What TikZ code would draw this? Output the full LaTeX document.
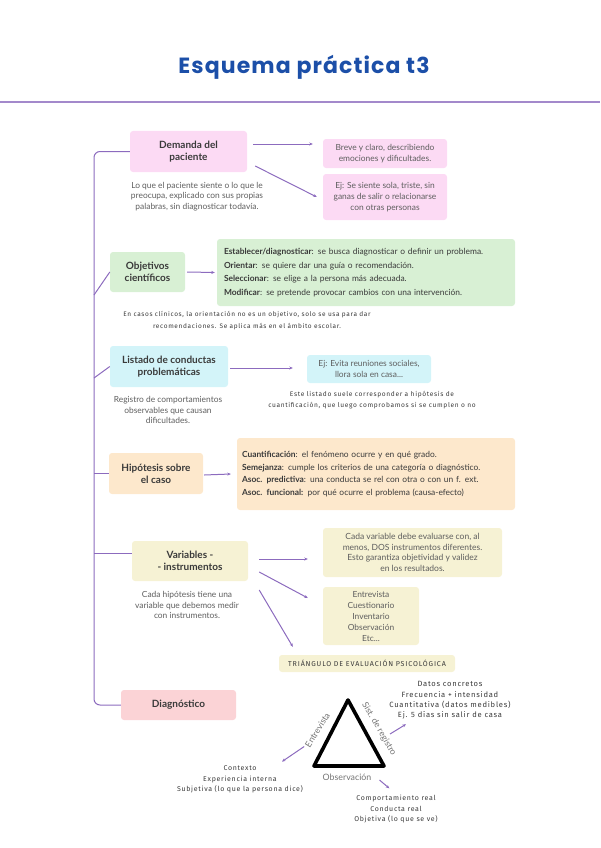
\documentclass[tikz,border=0pt]{standalone}
\usepackage{fontspec}
\setmainfont{Lato}
\newfontfamily\titlefont{Poppins}
\newfontfamily\handfont{Fira Sans}[LetterSpace=10]
\newfontfamily\handcaps{Fira Sans}[LetterSpace=12]
\usetikzlibrary{arrows.meta}
\definecolor{lineP}{HTML}{8C6BBE}
\definecolor{titleB}{HTML}{1C4FA8}
\definecolor{txtdark}{HTML}{3A3A3A}
\definecolor{txtgray}{HTML}{5E5E5E}
\definecolor{txtlight}{HTML}{747474}
\definecolor{fpink}{HTML}{FCDAF4}
\definecolor{fgreen}{HTML}{D8F0D4}
\definecolor{fcyan}{HTML}{D3F4F9}
\definecolor{forange}{HTML}{FDE8CC}
\definecolor{fyellow}{HTML}{F6F2D4}
\definecolor{fred}{HTML}{FBD3D6}
\begin{document}
\begin{tikzpicture}[x=1pt,y=-1pt,
  mainbox/.style={rounded corners=3pt, inner sep=1pt, align=center, text=txtdark,
    font=\fontsize{10}{12.3}\selectfont\bfseries},
  infobox/.style={rounded corners=3pt, inner sep=1pt, align=center, text=txtgray,
    font=\fontsize{8.4}{10.4}\selectfont},
  listbox/.style={rounded corners=3pt, inner ysep=1pt, align=left, text=txtdark,
    font=\fontsize{8.4}{13.5}\selectfont},
  desc/.style={align=center, text=txtgray, inner sep=0pt, font=\fontsize{8.4}{10.4}\selectfont},
  hand/.style={align=center, text=txtdark, inner sep=0pt, font=\handfont\fontsize{6.6}{11.5}\selectfont},
  tlabel/.style={text=txtlight, inner sep=0pt, font=\fontsize{8.8}{10}\selectfont},
  trunk/.style={draw=lineP, line width=1pt},
  arr/.style={draw=lineP, line width=1pt, -{Stealth[length=3.5pt,width=3pt]}},
]
\useasboundingbox (0,0) rectangle (600,848);

% title
\node[text=titleB, font=\titlefont\fontsize{22}{25}\selectfont\bfseries\addfontfeatures{LetterSpace=5}] (title) at (304,67) {Esquema práctica t3};
\draw[draw=lineP!80, line width=1.2pt] (0,102) coordinate (hl) -- (600,102) coordinate (hr);

% main boxes
\node[mainbox, fill=fpink, minimum width=117pt, minimum height=41pt] (dem) at (188.5,151.5) {Demanda del\\paciente};
\node[mainbox, fill=fgreen, minimum width=75pt, minimum height=40pt] (obj) at (147.5,272) {Objetivos\\científicos};
\node[mainbox, fill=fcyan, minimum width=118pt, minimum height=41pt] (lis) at (169,366.5) {Listado de conductas\\problemáticas};
\node[mainbox, fill=forange, minimum width=94pt, minimum height=41pt] (hip) at (156,473.5) {Hipótesis sobre\\el caso};
\node[mainbox, fill=fyellow, minimum width=116pt, minimum height=40pt] (var) at (190,561) {Variables -\\- instrumentos};
\node[mainbox, fill=fred, minimum width=115pt, minimum height=30pt] (dia) at (178.5,705) {Diagnóstico};

% spine
\coordinate (sp) at (94,400);
\draw[trunk, rounded corners=6pt] (dem.west) -| (sp) |- (dia.west);
\coordinate (b1) at (94,295);
\coordinate (b2) at (94,378);
\coordinate (b3) at (94,473.5);
\coordinate (b4) at (94,553);
\draw[trunk] (b1) -- (obj.west);
\draw[trunk] (b2) -- (lis.west);
\draw[trunk] (b3) -- (hip.west);
\draw[trunk] (b4) -- (b4 -| var.west);

% Demanda
\node[infobox, fill=fpink, minimum width=124pt, minimum height=29pt] (breve) at (385,153.5) {Breve y claro, describiendo\\emociones y dificultades.};
\node[infobox, fill=fpink, minimum width=124pt, minimum height=46pt, font=\fontsize{8.4}{10.7}\selectfont] (sola) at (385,197) {Ej: Se siente sola, triste, sin\\ganas de salir o relacionarse\\con otras personas};
\node[desc] (d1) at (197,196.5) {Lo que el paciente siente o lo que le\\preocupa, explicado con sus propias\\palabras, sin diagnosticar todavía.};
\draw[arr] ([xshift=6pt,yshift=7.5pt]dem.east) -- ([xshift=-10pt,yshift=9.5pt]breve.west);
\draw[arr] ([xshift=8pt,yshift=-14.5pt]dem.east) -- ([xshift=-6pt]sola.west);

% Objetivos
\node[listbox, fill=fgreen, minimum width=298pt, minimum height=67pt, text width=284pt, inner xsep=7pt] (obl) at (366,272.5) {%
\textbf{Establecer/diagnosticar}: se busca diagnosticar o definir un problema.\\
\textbf{Orientar}: se quiere dar una guía o recomendación.\\
\textbf{Seleccionar}: se elige a la persona más adecuada.\\
\textbf{Modificar}: se pretende provocar cambios con una intervención.};
\draw[arr] ([xshift=2pt]obj.east) -- ([xshift=-2pt]obl.west);
\node[hand, font=\handfont\fontsize{6.5}{12}\selectfont] (n1) at (247,321) {En casos clínicos, la orientación no es un objetivo, solo se usa para dar\\recomendaciones. Se aplica más en el ámbito escolar.};

% Listado
\node[infobox, fill=fcyan, minimum width=124pt, minimum height=28pt] (evi) at (369,369) {Ej: Evita reuniones sociales,\\llora sola en casa...};
\draw[arr] ([xshift=2pt,yshift=-1.5pt]lis.east) -- ([xshift=-14pt,yshift=1pt]evi.west);
\node[hand] (n2) at (372,400) {Este listado suele corresponder a hipótesis de\\cuantificación, que luego comprobamos si se cumplen o no};
\node[desc] (d2) at (168,410) {Registro de comportamientos\\observables que causan\\dificultades.};

% Hipótesis
\node[listbox, fill=forange, minimum width=278pt, minimum height=72pt, text width=268pt, inner xsep=5pt, font=\fontsize{8.4}{12.4}\selectfont] (hil) at (376,474) {%
\textbf{Cuantificación}: el fenómeno ocurre y en qué grado.\\
\textbf{Semejanza}: cumple los criterios de una categoría o diagnóstico.\\
\textbf{Asoc. predictiva}: una conducta se rel con otra o con un f. ext.\\
\textbf{Asoc. funcional:} por qué ocurre el problema (causa-efecto)};
\draw[arr] ([xshift=1pt,yshift=-1.5pt]hip.east) -- ([xshift=-6pt]hil.west);

% Variables
\node[infobox, fill=fyellow, minimum width=179pt, minimum height=49pt, font=\fontsize{8.5}{10.5}\selectfont] (v1) at (412.5,552.5) {Cada variable debe evaluarse con, al\\menos, DOS instrumentos diferentes.\\Esto garantiza objetividad y validez\\en los resultados.};
\node[infobox, fill=fyellow, minimum width=96pt, minimum height=58pt, font=\fontsize{8.4}{11}\selectfont] (v2) at (371,616) {Entrevista\\Cuestionario\\Inventario\\Observación\\Etc...};
\node[desc] (d3) at (187,605) {Cada hipótesis tiene una\\variable que debemos medir\\con instrumentos.};
\node[fill=fyellow, rounded corners=3pt, minimum width=176pt, minimum height=17pt, inner sep=0pt, text=txtdark, font=\handcaps\fontsize{7.1}{8}\selectfont] (tt) at (367,663.5) {TRIÁNGULO DE EVALUACIÓN PSICOLÓGICA};
\draw[arr] ([xshift=11pt,yshift=2pt]var.east) -- ([xshift=-15pt,yshift=-6.5pt]v1.west);
\draw[arr] ([xshift=11pt,yshift=-11pt]var.east) -- ([xshift=-15pt,yshift=18pt]v2.west);
\draw[arr] ([xshift=11pt,yshift=-29pt]var.east) -- ([xshift=14pt,yshift=8pt]tt.north west);

% Triangle
\coordinate (TA) at (348,700);
\coordinate (TB) at (314,766);
\coordinate (TC) at (384,766);
\draw[line width=3.6pt, line join=round, line cap=round] (TA) -- (TB) -- (TC) -- cycle;
\node[tlabel, rotate=58] (lent) at (317.5,730) {Entrevista};
\node[tlabel, rotate=-60] (lsis) at (379,729) {Sist. de registro};
\node[tlabel] (lobs) at (347,777.5) {Observación};

\node[hand, font=\handfont\fontsize{7.6}{10.4}\selectfont] (q1) at (450,700.5) {Datos concretos\\Frecuencia + intensidad\\Cuantitativa (datos medibles)\\Ej. 5 días sin salir de casa};
\node[hand, font=\handfont\fontsize{7}{10.5}\selectfont] (q2) at (240,779.5) {Contexto\\Experiencia interna\\Subjetiva (lo que la persona dice)};
\node[hand, font=\handfont\fontsize{7}{10.5}\selectfont] (q3) at (396,809.5) {Comportamiento real\\Conducta real\\Objetiva (lo que se ve)};

\draw[arr] ([xshift=-3pt]lent.west) -- ([xshift=42pt,yshift=4pt]q2.north);
\draw[arr] ([xshift=11pt,yshift=-5pt]lsis.center) -- ([xshift=-44pt,yshift=-4.5pt]q1.south);
\draw[arr] ([xshift=8pt,yshift=-2.5pt]lobs.east) -- ([xshift=-6.7pt,yshift=7pt]q3.north);
\end{tikzpicture}
\end{document}
